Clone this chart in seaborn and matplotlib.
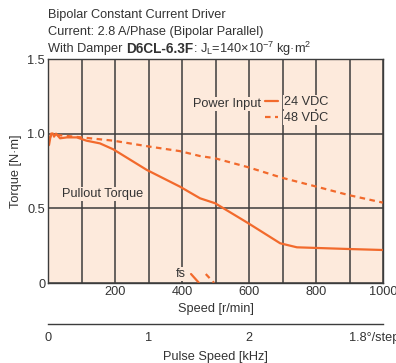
import matplotlib
matplotlib.use("Agg")
import matplotlib.pyplot as plt
import seaborn as sns
import pandas as pd
import numpy as np

# ---- data ----
speed_24 = [0, 3, 9, 15, 18, 24, 36, 56, 86, 115, 155, 195, 295, 394, 454, 499, 598, 693, 743, 892, 1000]
torque_24 = [0.92, 0.924, 1.0, 1.0, 0.98, 1.0, 0.969, 0.975, 0.975, 0.953, 0.935, 0.895, 0.757, 0.645, 0.567, 0.534, 0.40, 0.266, 0.239, 0.228, 0.221]
speed_48 = [5, 12, 30, 96, 195, 304, 394, 454, 499, 598, 698, 802, 897, 1000]
torque_48 = [0.97, 1.0, 0.99, 0.976, 0.953, 0.913, 0.883, 0.85, 0.835, 0.775, 0.705, 0.645, 0.589, 0.538]
fs_24_speed = [427, 451]
fs_24_torque = [0.06, 0.0]
fs_48_speed = [471, 496]
fs_48_torque = [0.06, 0.0]
series_labels = ["24 VDC", "48 VDC"]
x_ticks = [200, 400, 600, 800, 1000]
y_ticks = [0, 0.5, 1.0, 1.5]
y_tick_labels = ["0", "0.5", "1.0", "1.5"]
pulse_ticks = [0, 1, 2, 3]
pulse_tick_labels = ["0", "1", "2", "1.8°/step"]
title_lines = ["Bipolar Constant Current Driver", "Current: 2.8 A/Phase (Bipolar Parallel)"]

sns.set_theme(style="white")
FONT = ["Liberation Sans", "DejaVu Sans"]
plt.rcParams["font.family"] = FONT
plt.rcParams["mathtext.fontset"] = "custom"
plt.rcParams["mathtext.rm"] = "Liberation Sans"
plt.rcParams["mathtext.it"] = "Liberation Sans"

ORANGE = "#F26A2C"
BG = "#FDEADC"
GRID = "#3C3C3C"
TXT = "#333333"
FS = 9.2
BOX = dict(facecolor=BG, edgecolor="none", pad=0.6)

fig = plt.figure(figsize=(3.96, 3.63), dpi=100)
ax = fig.add_axes([48/396, 1-283/363, 335/396, 224/363])
ax.set_facecolor(BG)

df24 = pd.DataFrame({"speed": speed_24, "torque": torque_24})
df48 = pd.DataFrame({"speed": speed_48, "torque": torque_48})
sns.lineplot(data=df24, x="speed", y="torque", ax=ax, color=ORANGE, lw=1.6,
             sort=False, estimator=None, label=series_labels[0])
sns.lineplot(data=df48, x="speed", y="torque", ax=ax, color=ORANGE, lw=1.6,
             sort=False, estimator=None, label=series_labels[1], linestyle=(0, (2.5, 2)))
sns.lineplot(x=fs_24_speed, y=fs_24_torque, ax=ax, color=ORANGE, lw=1.6, estimator=None)
sns.lineplot(x=fs_48_speed, y=fs_48_torque, ax=ax, color=ORANGE, lw=1.6, estimator=None,
             linestyle=(0, (2.5, 2)))

ax.set_xlim(0, 1000)
ax.set_ylim(0, 1.5)
ax.set_xticks(x_ticks)
ax.set_xticklabels([str(v) for v in x_ticks])
ax.set_xticks(np.arange(100, 1000, 200), minor=True)
ax.set_yticks(y_ticks)
ax.set_yticklabels(y_tick_labels)
ax.grid(True, which="both", axis="x", color=GRID, lw=1.1)
ax.grid(True, which="major", axis="y", color=GRID, lw=1.1)
ax.tick_params(axis="both", which="both", length=0, labelsize=FS, labelcolor=TXT, pad=2)
for s in ax.spines.values():
    s.set_color(GRID)
    s.set_linewidth(1.0)
    s.set_visible(True)
ax.set_xlabel("Speed [r/min]", fontsize=FS, color=TXT, labelpad=4)
ax.set_ylabel("Torque [N·m]", fontsize=FS, color=TXT, labelpad=4)

leg = ax.legend(loc="upper left", bbox_to_anchor=(0.648, 0.834), frameon=False,
                fontsize=FS, handlelength=1.0, handletextpad=0.45, labelspacing=0.3,
                borderpad=0, borderaxespad=0)
for t in leg.get_texts():
    t.set_color(TXT)
    t.set_bbox(BOX)
ax.text(0.636, 0.800, "Power Input", transform=ax.transAxes, ha="right", va="center",
        fontsize=FS, color=TXT, bbox=BOX)
ax.text(42, 0.596, "Pullout Torque", fontsize=FS, color=TXT, va="center", ha="left", bbox=BOX)
ax.text(397, 0.058, "fs", fontsize=FS, color=TXT, va="center", ha="center", bbox=BOX)

# pulse speed axis
ax2 = fig.add_axes([48/396, 1-324/363, 335/396, 0.0001])
ax2.set_xlim(0, 1000/300)
ax2.set_ylim(0, 1)
ax2.set_facecolor("none")
for k in ["top", "left", "right"]:
    ax2.spines[k].set_visible(False)
ax2.spines["bottom"].set_color(GRID)
ax2.spines["bottom"].set_linewidth(1.0)
ax2.set_yticks([])
ax2.set_xticks(pulse_ticks)
ax2.set_xticklabels(pulse_tick_labels)
ax2.tick_params(axis="x", direction="in", length=3, width=1, color=GRID,
                labelsize=FS, labelcolor=TXT, pad=6)
ax2.set_xlabel("Pulse Speed [kHz]", fontsize=FS, color=TXT, labelpad=5)
ax2.get_xticklabels()[-1].set_ha("left")
ax2.get_xticklabels()[-1].set_x(2.97)

# title lines
fig.text(48/396, 1-15/363, title_lines[0], fontsize=FS, color=TXT, va="center", ha="left")
fig.text(48/396, 1-32/363, title_lines[1], fontsize=FS, color=TXT, va="center", ha="left")
renderer = fig.canvas.get_renderer()
y3 = 1-49/363
t1 = fig.text(48/396, y3, "With Damper ", fontsize=FS, color=TXT, va="center", ha="left")
bb = t1.get_window_extent(renderer)
t2 = fig.text(bb.x1/fig.bbox.width, y3, "D6CL-6.3F", fontsize=FS + 0.6, color=TXT, va="center",
              ha="left", fontweight="bold")
bb2 = t2.get_window_extent(renderer)
fig.text(bb2.x1/fig.bbox.width, y3, r": J$_\mathregular{L}$=140×10$^{\mathregular{-7}}$ kg·m$^{\mathregular{2}}$",
         fontsize=FS, color=TXT, va="center", ha="left")

fig.savefig("out.png", dpi=100)
